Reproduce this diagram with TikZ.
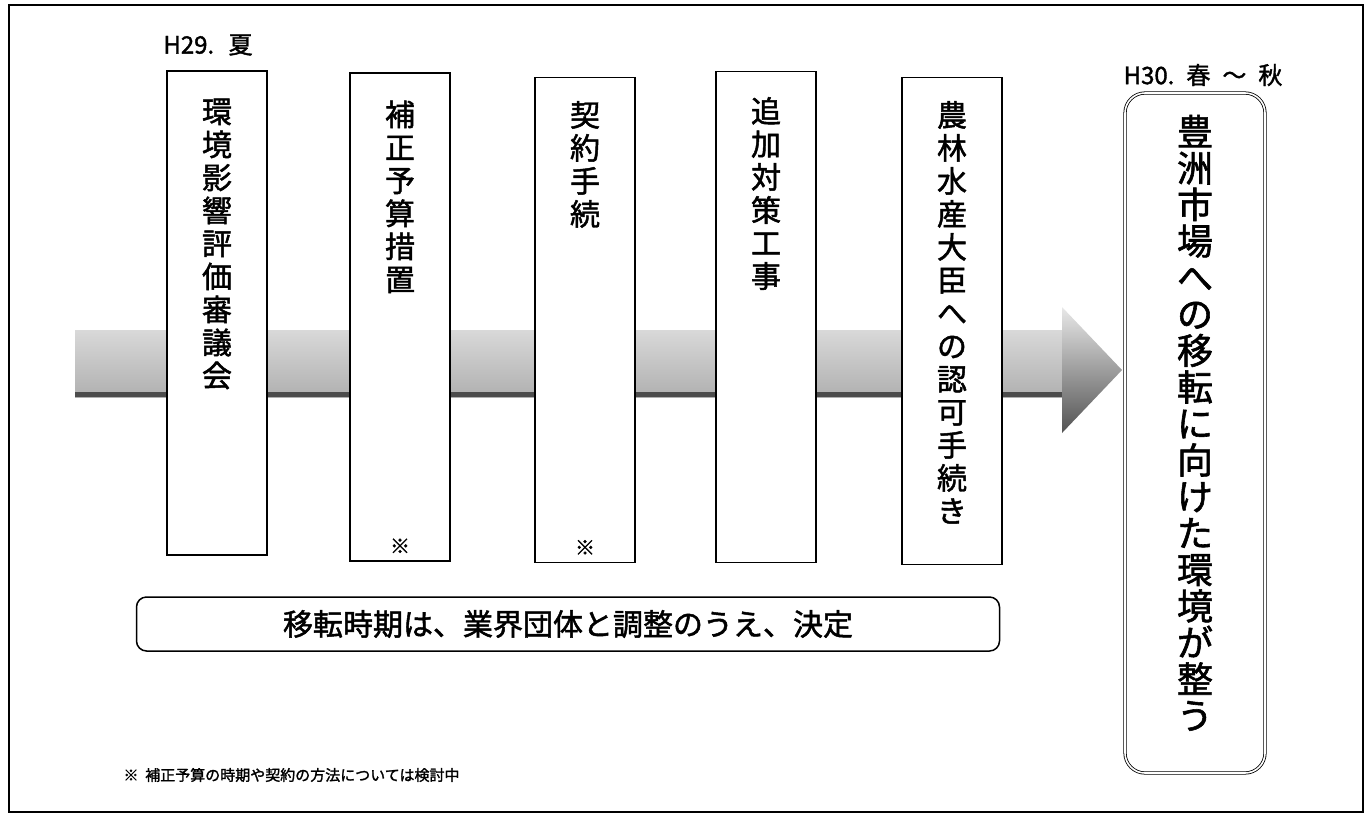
\documentclass[tikz,border=0pt]{standalone}
\usepackage{fontspec}
\newfontfamily\jp[FakeBold=1.6]{Noto Sans CJK JP}
\usetikzlibrary{positioning}
\tikzset{
  stepbox/.style={draw, line width=1.2pt, fill=white, minimum width=100pt, inner sep=0pt},
  vlabel/.style={font=\jp\fontsize{30}{33}\selectfont, align=center, inner sep=0pt},
  notemark/.style={font=\jp\fontsize{20}{20}\selectfont, inner sep=0pt},
  datelabel/.style={font=\jp\fontsize{24}{24}\selectfont, inner sep=0pt},
  goalbox/.style={draw, line width=0.8pt, double, double distance=1.6pt, rounded corners=20pt, fill=white, minimum width=140pt, inner sep=0pt},
  notebox/.style={draw, line width=1.5pt, rounded corners=10pt, fill=white, minimum width=863pt, minimum height=54pt, font=\jp\fontsize{30}{30}\selectfont}
}
\begin{document}
\begin{tikzpicture}[x=1pt, y=-1pt]
            \useasboundingbox (0,0) rectangle (1372,825);
            \draw[line width=2.5pt] (9,5) rectangle (1363,812);
            % timeline arrow
            \shade[top color=gray!30, bottom color=gray!62] (75,330) rectangle (1063,397);
            \fill[gray!60!black] (75,392) rectangle (1063,397);
            \shade[top color=gray!18, bottom color=gray!65!black] (1062,307) -- (1122,370) -- (1062,433) -- cycle;
            % steps
            \node[stepbox, minimum height=484pt] (b1) at (217, 313) {};
            \node[stepbox, minimum height=488pt] (b2) at (400, 317) {};
            \node[stepbox, minimum height=485pt] (b3) at (585, 320) {};
            \node[stepbox, minimum height=491pt] (b4) at (766, 317) {};
            \node[stepbox, minimum height=487pt] (b5) at (952, 321) {};
            \node[vlabel, below=28pt of b1.north] (t1) {環\\境\\影\\響\\評\\価\\審\\議\\会};
            \node[vlabel, below=28pt of b2.north] (t2) {補\\正\\予\\算\\措\\置};
            \node[vlabel, below=24pt of b3.north] (t3) {契\\約\\手\\続};
            \node[vlabel, below=26pt of b4.north] (t4) {追\\加\\対\\策\\工\\事};
            \node[vlabel, below=24pt of b5.north] (t5) {農\\林\\水\\産\\大\\臣\\へ\\の\\認\\可\\手\\続\\き};
            \node[notemark, above=8pt of b2.south] (m2) {※};
            \node[notemark, above=8pt of b3.south] (m3) {※};
            % goal
            \node[goalbox, minimum height=680pt] (goal) at (1195, 433) {};
            \node[vlabel, font=\jp\fontsize{36}{36.5}\selectfont, below=22pt of goal.north] (tg) {豊\\洲\\市\\場\\へ\\の\\移\\転\\に\\向\\け\\た\\環\\境\\が\\整\\う};
            \node[datelabel] (d29) at (208, 45) {H29.\hspace{0.6em}夏};
            \node[datelabel] (d30) at (1203, 75) {H30.\hspace{0.5em}春\hspace{0.5em}～\hspace{0.5em}秋};
            % notes
            \node[notebox] (decide) at (568, 624) {移転時期は、業界団体と調整のうえ、決定};
            \node[font=\jp\fontsize{15}{15}\selectfont, anchor=west] (foot) at (120, 775) {※\ \ 補正予算の時期や契約の方法については検討中};
         \end{tikzpicture}
\end{document}
